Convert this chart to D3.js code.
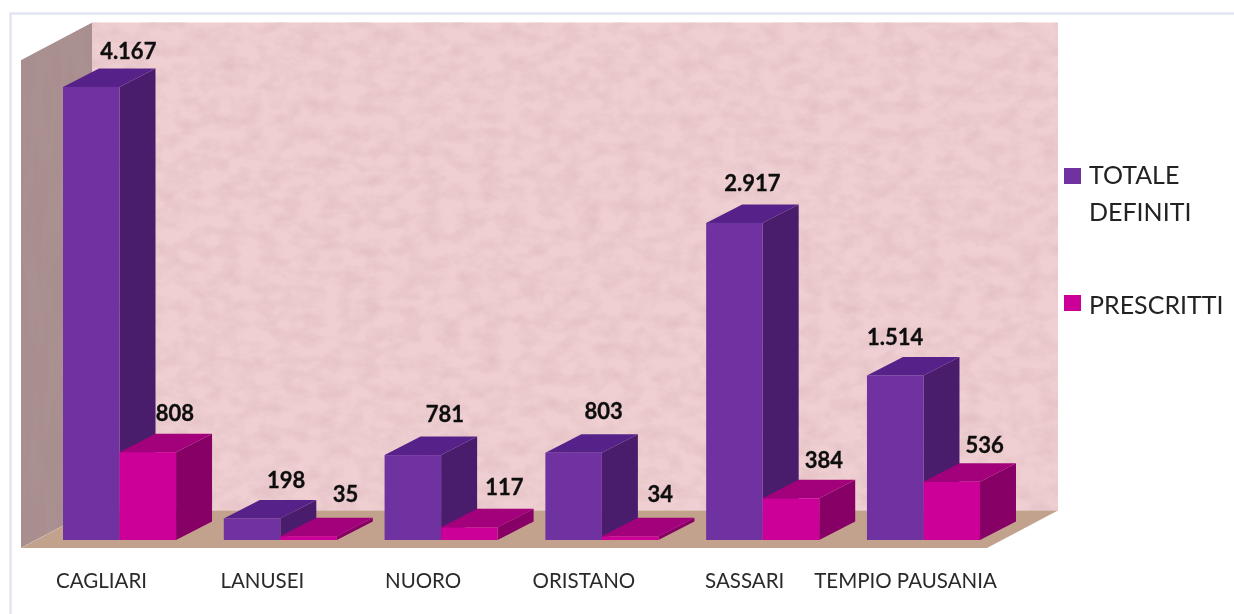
<!DOCTYPE html>
<html>
<head>
<meta charset="utf-8">
<script src="https://cdn.jsdelivr.net/npm/d3@7/dist/d3.min.js"></script>
<style>
  html, body { margin: 0; padding: 0; background: #fff; }
  svg { display: block; }
  text { font-family: Lato, "Open Sans", sans-serif; fill: #1a1a1a; }
  .value { font-size: 22px; font-weight: 700; fill: #111; stroke: #111; stroke-width: 0.35px; text-anchor: middle; }
  .axisCat text { font-size: 20.5px; fill: #2a2a2a; }
  .legend { font-size: 25px; fill: #222; }
</style>
</head>
<body>
<div id="canvas-wrapper"></div>
<script>
var categories = ["CAGLIARI", "LANUSEI", "NUORO", "ORISTANO", "SASSARI", "TEMPIO PAUSANIA"];
var totaleDefiniti = [4167, 198, 781, 803, 2917, 1514];
var prescritti = [808, 35, 117, 34, 384, 536];
var valueLabels = {
  totale: ["4.167", "198", "781", "803", "2.917", "1.514"],
  prescritti: ["808", "35", "117", "34", "384", "536"]
};

var width = 1234, height = 614;

var x0 = d3.scaleBand().domain(categories).range([63, 980]).paddingInner(0.297).paddingOuter(0);
var x1 = d3.scaleBand().domain(["totale", "prescritti"]).range([0, x0.bandwidth()]);
var y = d3.scaleLinear().domain([0, 4167]).range([540, 87]);

// 3d box depth
var depthX = 36, depthY = -18.5;

var colors = {
  totale: {front: "#7030a0", top: "#57248a", side: "#4a1d6c"},
  prescritti: {front: "#cc0099", top: "#a3007b", side: "#870066"}
};

// the labels were moved by hand in the original, so each one has its own nudge
var labelNudge = {
  totale: [[37, -36], [34, -38], [32, -41], [30, -41], [18, -40], [0, -38]],
  prescritti: [[27, -39], [37, -42], [35, -40], [30, -42], [33, -38], [33, -36]]
};

var svg = d3.select("#canvas-wrapper").append("svg")
    .attr("width", width)
    .attr("height", height);

var defs = svg.append("defs");

function marble(id, freq, rgb, amount, cut) {
  var f = defs.append("filter").attr("id", id)
      .attr("x", 0).attr("y", 0).attr("width", 1).attr("height", 1);
  f.append("feTurbulence")
      .attr("type", "fractalNoise")
      .attr("baseFrequency", freq)
      .attr("numOctaves", 6)
      .attr("seed", 11)
      .attr("result", "noise");
  f.append("feColorMatrix").attr("in", "noise").attr("type", "matrix")
      .attr("values", "0 0 0 0 " + rgb[0] + "  0 0 0 0 " + rgb[1] + "  0 0 0 0 " + rgb[2] + "  " + amount + " 0 0 0 " + (-amount * cut))
      .attr("result", "tint");
  f.append("feMerge").selectAll("feMergeNode")
      .data(["SourceGraphic", "tint"])
    .enter().append("feMergeNode")
      .attr("in", function(d) { return d; });
}
marble("wallTexture", "0.05 0.07", [0.62, 0.38, 0.42], 0.7, 0.36);
marble("sideTexture", "0.09 0.012", [0.42, 0.3, 0.3], 1.2, 0.4);

defs.append("filter").attr("id", "soft")
    .attr("x", "-2%").attr("y", "-2%").attr("width", "104%").attr("height", "104%")
  .append("feGaussianBlur").attr("stdDeviation", 0.45);

// thin frame of the picture
svg.append("path")
    .attr("d", "M10.5,614V13.5H1234")
    .attr("fill", "none")
    .attr("stroke", "#e3e6f0")
    .attr("stroke-width", 2.5);

var chart = svg.append("g").attr("filter", "url(#soft)");

// walls and floor
var wallLeft = 21, wallRight = 987, wallTop = 60, floorFront = 548;
var wallDx = 71, wallDy = -37.5;

chart.append("rect")
    .attr("x", wallLeft + wallDx).attr("y", wallTop + wallDy)
    .attr("width", wallRight - wallLeft)
    .attr("height", floorFront - wallTop)
    .attr("fill", "#efcfd1")
    .attr("filter", "url(#wallTexture)");

// the texture fills the whole filter box, so the slanted wall has to be clipped
var leftWallPoints = [[wallLeft, wallTop], [wallLeft + wallDx, wallTop + wallDy],
  [wallLeft + wallDx, floorFront + wallDy], [wallLeft, floorFront]].join(" ");
defs.append("clipPath").attr("id", "leftWallClip")
  .append("polygon").attr("points", leftWallPoints);
chart.append("g")
    .attr("clip-path", "url(#leftWallClip)")
  .append("polygon")
    .attr("points", leftWallPoints)
    .attr("fill", "#a88e8e")
    .attr("filter", "url(#sideTexture)");

chart.append("polygon")
    .attr("points", [[wallLeft, floorFront], [wallLeft + wallDx, floorFront + wallDy],
      [wallRight + wallDx, floorFront + wallDy], [wallRight, floorFront]].join(" "))
    .attr("fill", "#c2a28c");

// bars
function drawBox(g, left, w, top, base, c) {
  g.append("polygon").attr("fill", c.side)
      .attr("points", [[left + w, top], [left + w + depthX, top + depthY],
        [left + w + depthX, base + depthY], [left + w, base]].join(" "));
  g.append("polygon").attr("fill", c.top)
      .attr("points", [[left, top], [left + depthX, top + depthY],
        [left + w + depthX, top + depthY], [left + w, top]].join(" "));
  g.append("rect").attr("fill", c.front)
      .attr("x", left).attr("y", top)
      .attr("width", w).attr("height", base - top);
}

categories.forEach(function(cat, i) {
  var g = chart.append("g").attr("class", "group");
  drawBox(g, x0(cat) + x1("totale"), x1.bandwidth(), y(totaleDefiniti[i]), y(0), colors.totale);
  drawBox(g, x0(cat) + x1("prescritti"), x1.bandwidth(), y(prescritti[i]), y(0), colors.prescritti);
});

// value labels
function drawLabels(key, values) {
  chart.selectAll("text.value." + key)
      .data(values)
    .enter().append("text")
      .attr("class", "value " + key)
      .attr("dy", "0.35em")
      .attr("x", function(d, i) {
        return x0(categories[i]) + x1(key) + x1.bandwidth() / 2 + labelNudge[key][i][0];
      })
      .attr("y", function(d, i) { return y(d) + labelNudge[key][i][1]; })
      .text(function(d, i) { return valueLabels[key][i]; });
}
drawLabels("totale", totaleDefiniti);
drawLabels("prescritti", prescritti);

// category axis, no line and no ticks
chart.append("g")
    .attr("class", "axisCat")
    .attr("transform", "translate(-18,569)")
    .call(d3.axisBottom(x0).tickSize(0).tickPadding(4))
    .call(function(g) { g.select(".domain").remove(); })
    .selectAll("text")
    .attr("dy", "0.75em");

// legend
var legend = chart.append("g");
legend.selectAll("rect")
    .data([{y: 168, c: colors.totale.front}, {y: 295, c: colors.prescritti.front}])
  .enter().append("rect")
    .attr("x", 1064).attr("y", function(d) { return d.y; })
    .attr("width", 17).attr("height", 16)
    .attr("fill", function(d) { return d.c; });
legend.selectAll("text")
    .data([{t: "TOTALE", y: 175}, {t: "DEFINITI", y: 212}, {t: "PRESCRITTI", y: 305}])
  .enter().append("text")
    .attr("class", "legend")
    .attr("x", 1089).attr("y", function(d) { return d.y; })
    .attr("dy", "0.36em")
    .text(function(d) { return d.t; });
</script>
</body>
</html>
